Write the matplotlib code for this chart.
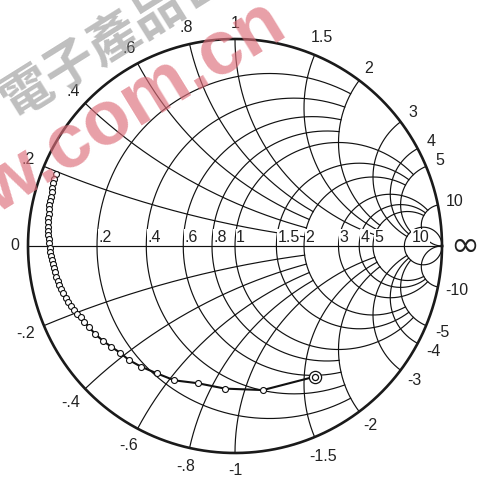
import numpy as np
import matplotlib
matplotlib.use("Agg")
import matplotlib.pyplot as plt

plt.rcParams['font.family'] = ['Liberation Sans', 'DejaVu Sans']

# ---- grid values ----
r_values = [0.2, 0.4, 0.6, 0.8, 1, 1.5, 2, 3, 4, 5, 10]
x_values = [0.2, 0.4, 0.6, 0.8, 1, 1.5, 2, 3, 4, 5, 10]
# truncation: each line stops where it meets this value of the other family
r_limit = [2, 2, 2, 2, 5, 5, 5, 10, 10, 10, np.inf]
x_limit = [2, 2, 2, 2, 5, 5, 5, 10, 10, 10, np.inf]

r_labels = ['.2', '.4', '.6', '.8', '1', '1.5', '2', '3', '4', '5', '10']
x_labels_pos = ['.2', '.4', '.6', '.8', '1', '1.5', '2', '3', '4', '5', '10']
x_labels_neg = ['-.2', '-.4', '-.6', '-.8', '-1', '-1.5', '-2', '-3', '-4', '-5', '-10']

# ---- trace (reflection coefficient, real / imag) ----
gamma_re = [-0.866, -0.873, -0.878, -0.883, -0.886, -0.890, -0.894, -0.897, -0.899, -0.900,
            -0.902, -0.902, -0.902, -0.902, -0.902, -0.899, -0.897, -0.895, -0.892, -0.889,
            -0.886, -0.881, -0.876, -0.870, -0.863, -0.857, -0.849, -0.841, -0.829, -0.818,
            -0.805, -0.792, -0.778, -0.762, -0.745, -0.728, -0.704, -0.676, -0.639, -0.599,
            -0.556, -0.512, -0.454, -0.378, -0.293, -0.179, -0.048, 0.135]
gamma_im = [0.346, 0.324, 0.303, 0.282, 0.262, 0.238, 0.217, 0.198, 0.177, 0.156,
            0.134, 0.114, 0.093, 0.072, 0.053, 0.034, 0.013, -0.008, -0.028, -0.047,
            -0.068, -0.088, -0.108, -0.127, -0.148, -0.168, -0.188, -0.208, -0.229, -0.250,
            -0.269, -0.288, -0.309, -0.327, -0.344, -0.366, -0.393, -0.425, -0.457, -0.486,
            -0.515, -0.551, -0.583, -0.615, -0.649, -0.663, -0.689, -0.696]
end_re, end_im = 0.386, -0.631

wm_cn = '電子產品世界'
wm_url = 'w.com.cn'

W, H = 491, 479
cx, cy, R = 235, 246, 207
fig = plt.figure(figsize=(W / 100, H / 100), dpi=100)
ax = fig.add_axes([0, 0, 1, 1])
ax.set_xlim(-cx / R, (W - cx) / R)
ax.set_ylim((cy - H) / R, cy / R)
ax.axis('off')

def gam(z):
    return (z - 1) / (z + 1)

GRID = dict(color='#111111', lw=0.85, zorder=3)

# resistance circles
for r, xl in zip(r_values, x_limit):
    if np.isinf(xl):
        c, rad = r / (1 + r), 1 / (1 + r)
        t = np.linspace(0, 2 * np.pi, 600)
        ax.plot(c + rad * np.cos(t), rad * np.sin(t), **GRID)
    else:
        xs = np.linspace(-xl, xl, 4000)
        g = gam(r + 1j * xs)
        ax.plot(g.real, g.imag, **GRID)

# reactance arcs
for x, rl in zip(x_values, r_limit):
    if np.isinf(rl):
        rs = np.tan(np.linspace(0, np.pi / 2 - 1e-4, 3000))
    else:
        rs = np.linspace(0, rl, 3000)
    for s in (1, -1):
        g = gam(rs + 1j * s * x)
        ax.plot(g.real, g.imag, **GRID)

# real axis
ax.plot([-1, 1], [0, 0], **GRID)
# outer circle
t = np.linspace(0, 2 * np.pi, 800)
ax.plot(np.cos(t), np.sin(t), color='#1a1a1a', lw=1.9, zorder=4)

# labels
FS = 11.5
TC = '#222222'
for x, lp, ln in zip(x_values, x_labels_pos, x_labels_neg):
    g = gam(1j * x)
    ang = np.angle(g)
    rp = 1.066 + 0.008 * len(lp)
    ax.text(rp * np.cos(ang), rp * np.sin(ang), lp, fontsize=FS, color=TC,
            ha='center', va='center', zorder=6)
    rn = 1.07 + 0.008 * len(ln)
    ax.text(rn * np.cos(-ang), rn * np.sin(-ang), ln, fontsize=FS, color=TC,
            ha='center', va='center', zorder=6)

for r, lab in zip(r_values, r_labels):
    left = (r - 1) / (r + 1)
    off = 0.035 if lab == '10' else 0.006
    ax.text(left + off, 0.006, lab, fontsize=FS, color=TC, ha='left', va='bottom',
            zorder=6, bbox=dict(facecolor='white', edgecolor='none', pad=0.3))

ax.text(-1.063, 0, '0', fontsize=FS, color=TC, ha='center', va='center', zorder=6)
ax.text(1.111, 0.0, '\u221e', fontsize=25, color=TC, ha='center', va='center',
        family='DejaVu Sans', zorder=6)

# trace
ax.plot(gamma_re + [end_re], gamma_im + [end_im], color='#111111', lw=1.5, zorder=7)
ax.plot(gamma_re, gamma_im, ls='none', marker='o', ms=4.3, mfc='white', mec='#111111',
        mew=0.8, zorder=8)
ax.plot([end_re], [end_im], ls='none', marker='o', ms=8.8, mfc='white', mec='#111111',
        mew=0.9, zorder=8)
ax.plot([end_re], [end_im], ls='none', marker='o', ms=4.4, mfc='white', mec='#111111',
        mew=0.9, zorder=9)

# watermark (overlaid, semi-transparent)
def px2d(px, py):
    return (px - cx) / R, (cy - py) / R

wx, wy = px2d(6, 106)
ax.text(wx, wy, wm_cn, fontsize=37, color='#8a8a8a', alpha=0.55, rotation=32,
        rotation_mode='anchor', ha='left', va='center',
        family=['Noto Sans CJK TC', 'DejaVu Sans'], fontweight='bold', zorder=10)
rx, ry = px2d(-4, 215)
ax.text(rx, ry, wm_url, fontsize=55, color='#dd6e7a', alpha=0.66, rotation=31.5,
        rotation_mode='anchor', ha='left', va='baseline', fontweight='bold', zorder=10)

fig.savefig('out.png', dpi=100, facecolor='white')
